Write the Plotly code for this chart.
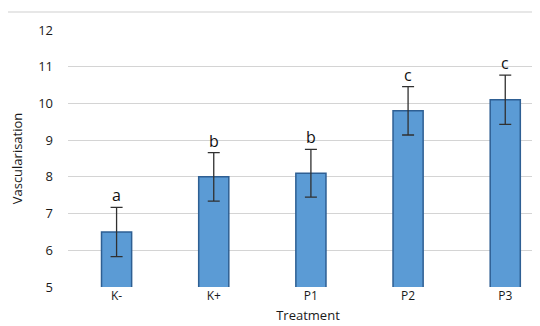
import plotly.graph_objects as go

categories = ["K-", "K+", "P1", "P2", "P3"]
values = [6.5, 8.0, 8.1, 9.8, 10.1]
errors = [0.67, 0.66, 0.65, 0.66, 0.67]
letters = ["a", "b", "b", "c", "c"]
y_ticks = [5, 6, 7, 8, 9, 10, 11, 12]

fig = go.Figure()
fig.add_trace(go.Bar(
    x=categories, y=values, width=0.31,
    marker=dict(color="#5B9BD5", line=dict(color="#2E5F93", width=1.5)),
    error_y=dict(type="data", array=errors, visible=True, color="#303030",
                 thickness=1.3, width=6),
))

for c, v, e, l in zip(categories, values, errors, letters):
    fig.add_annotation(x=c, y=v + e, text=l, showarrow=False, yshift=12,
                       font=dict(size=16, color="#111111", family="Open Sans"))

fig.add_shape(type="line", xref="paper", yref="paper", x0=-0.2, x1=1.0,
              y0=1 + 18 / 257, y1=1 + 18 / 257, line=dict(color="#CFCFCF", width=1))

fig.update_layout(
    width=540, height=326,
    margin=dict(l=60, r=0, t=22, b=47),
    paper_bgcolor="white", plot_bgcolor="white",
    showlegend=False,
    font=dict(family="Open Sans", size=12, color="#1a1a1a"),
    xaxis=dict(range=[-0.5, 4.44], showgrid=False, zeroline=False, showline=False,
               ticks="", tickfont=dict(size=12),
               title=dict(text="Treatment", font=dict(size=13), standoff=7)),
    yaxis=dict(range=[5, 12], tickvals=y_ticks, showgrid=True, gridcolor="#D4D4D4",
               gridwidth=1, zeroline=False, showline=False, ticks="",
               tickfont=dict(size=13), ticklabelstandoff=14,
               title=dict(text="Vascularisation", font=dict(size=13), standoff=12)),
)

fig.write_html("out.html")
